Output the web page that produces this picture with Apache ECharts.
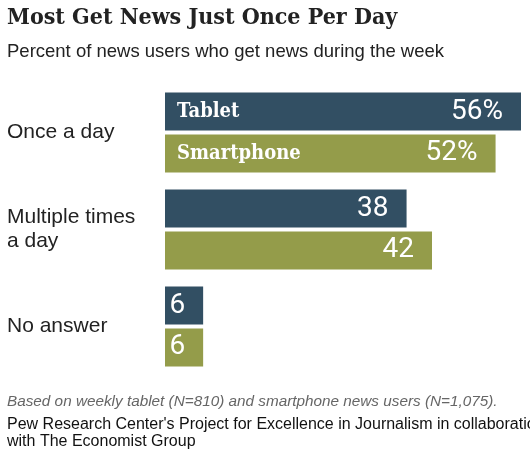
<!DOCTYPE html>
<html><head><meta charset="utf-8">
<script src="https://cdn.jsdelivr.net/npm/echarts@6/dist/echarts.min.js"></script>
<style>html,body{margin:0;padding:0;background:#fff}#c{width:530px;height:455px}</style>
</head><body><div id="c"></div>
<script>
const categories = ['Once a day', 'Multiple times\na day', 'No answer'];
const tablet = [56, 38, 6];
const smartphone = [52, 42, 6];
const seriesNames = ['Tablet', 'Smartphone'];
const titleText = 'Most Get News Just Once Per Day';
const subtitleText = 'Percent of news users who get news during the week';
const noteText = 'Based on weekly tablet (N=810) and smartphone news users (N=1,075).';
const sourceText = "Pew Research Center's Project for Excellence in Journalism in collaboration\nwith The Economist Group";

const C_TAB = '#324f63', C_SMA = '#949c4a';
const chart = echarts.init(document.getElementById('c'), null, {renderer: 'canvas'});
const valLabel = {
  show: true, position: 'insideRight', distance: 18, color: '#fff',
  fontFamily: 'Roboto', fontSize: 28,
  formatter: p => p.dataIndex === 0 ? p.value + '%' : String(p.value)
};
const nameLabel = {
  show: true, position: 'insideLeft', distance: 12, color: '#fff',
  fontFamily: 'DejaVu Serif Condensed', fontWeight: 'bold', fontSize: 20,
  formatter: p => p.dataIndex === 0 ? p.seriesName : ''
};
const bw = 38;
chart.setOption({
  animation: false,
  title: [
    {text: titleText, left: 7, top: 7, padding: 0, textStyle: {fontFamily: 'DejaVu Serif Condensed', fontWeight: 'bold', fontSize: 23, color: '#222'}},
    {text: subtitleText, left: 7, top: 42, padding: 0, textStyle: {fontFamily: 'Liberation Sans', fontWeight: 'normal', fontSize: 18.5, color: '#222'}},
    {text: noteText, left: 7, top: 394, padding: 0, textStyle: {fontFamily: 'Liberation Sans', fontStyle: 'italic', fontWeight: 'normal', fontSize: 15.3, color: '#666'}},
    {text: sourceText, left: 7, top: 416, padding: 0, textStyle: {fontFamily: 'Liberation Sans', fontWeight: 'normal', fontSize: 16, color: '#111', lineHeight: 17}}
  ],
  grid: {left: 165, right: 9, top: 84, height: 291, containLabel: false},
  xAxis: {type: 'value', min: 0, max: 56, show: false},
  yAxis: [
    {type: 'category', data: categories, inverse: true,
     axisLine: {show: false}, axisTick: {show: false}, splitLine: {show: false},
     axisLabel: {align: 'left', margin: 158, fontFamily: 'Liberation Sans', fontSize: 21, color: '#222', lineHeight: 24}},
    {type: 'category', data: categories, inverse: true, show: false}
  ],
  series: [
    {name: seriesNames[0], type: 'bar', data: tablet, barWidth: bw, barGap: '10%', itemStyle: {color: C_TAB}, label: valLabel},
    {name: seriesNames[1], type: 'bar', data: smartphone, barWidth: bw, barGap: '10%', itemStyle: {color: C_SMA}, label: valLabel},
    {name: seriesNames[0], type: 'bar', yAxisIndex: 1, data: tablet, barWidth: bw, barGap: '10%', itemStyle: {color: 'rgba(0,0,0,0)'}, label: nameLabel, silent: true},
    {name: seriesNames[1], type: 'bar', yAxisIndex: 1, data: smartphone, barWidth: bw, barGap: '10%', itemStyle: {color: 'rgba(0,0,0,0)'}, label: nameLabel, silent: true}
  ]
});
</script></body></html>
